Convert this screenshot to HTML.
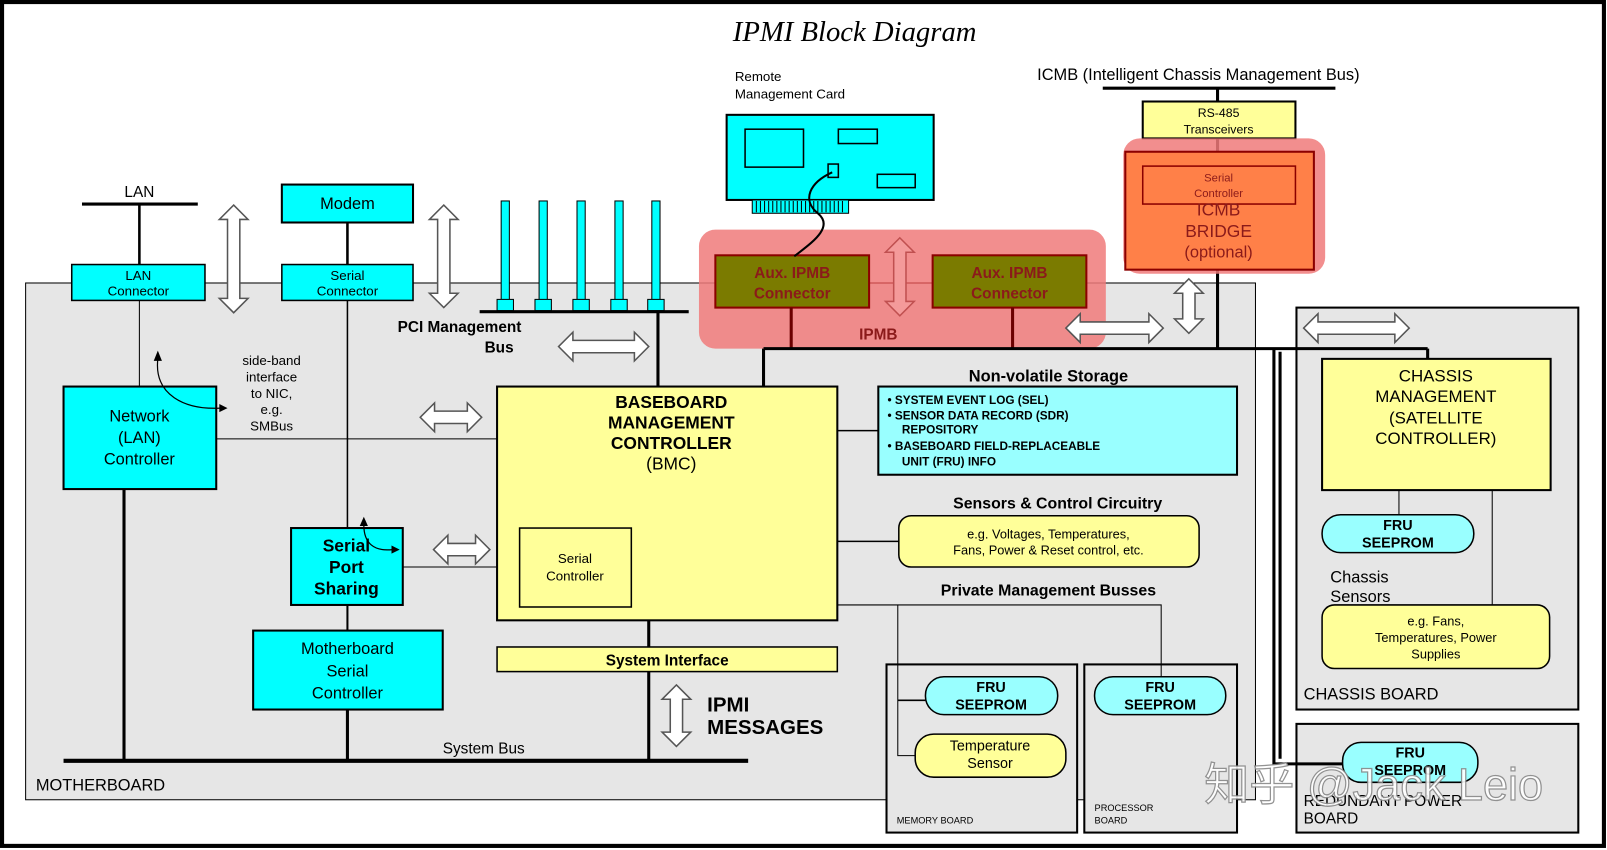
<!DOCTYPE html>
<html><head><meta charset="utf-8"><style>
html,body{margin:0;padding:0;background:#fff;}
svg{display:block;}
text{font-family:"Liberation Sans",Arial,sans-serif;fill:#000;}
.b{font-weight:bold;}
.c{text-anchor:middle;}
.ar{fill:#fff;stroke:#555;stroke-width:1.5;}
</style></head><body>
<svg width="1607" height="850" viewBox="0 0 1568 829" preserveAspectRatio="none" xmlns="http://www.w3.org/2000/svg">
<rect x="0" y="0" width="1568" height="829" fill="#fff"/>
<rect x="2" y="2" width="1563" height="823" fill="none" stroke="#000" stroke-width="4"/>

<!-- title -->
<text x="715" y="40" style="font-family:'Liberation Serif',serif;font-style:italic;font-size:28px">IPMI Block Diagram</text>
<text x="717" y="79" style="font-size:13px">Remote</text>
<text x="717" y="96" style="font-size:13px">Management Card</text>

<!-- boards -->
<rect x="25" y="276" width="1200" height="504" fill="#e6e6e6" stroke="#000" stroke-width="1"/>
<rect x="1265" y="300" width="275" height="392" fill="#e6e6e6" stroke="#000" stroke-width="2"/>
<rect x="1265" y="706" width="275" height="106" fill="#e6e6e6" stroke="#000" stroke-width="2"/>
<rect x="865" y="648" width="186" height="164" fill="#e6e6e6" stroke="#000" stroke-width="2"/>
<rect x="1058" y="648" width="149" height="164" fill="#e6e6e6" stroke="#000" stroke-width="2"/>
<text x="35" y="771" style="font-size:16px">MOTHERBOARD</text>
<text x="1272" y="682" style="font-size:16px">CHASSIS BOARD</text>
<text x="875" y="803" style="font-size:9px">MEMORY BOARD</text>
<text x="1068" y="791" style="font-size:9px">PROCESSOR</text>
<text x="1068" y="803" style="font-size:9px">BOARD</text>
<text x="1272" y="786" style="font-size:15px">REDUNDANT POWER</text>
<text x="1272" y="803" style="font-size:15px">BOARD</text>

<!-- remote card -->
<rect x="709" y="112" width="202" height="83" fill="#00ffff" stroke="#000" stroke-width="2"/>
<rect x="727" y="126" width="57" height="37" fill="none" stroke="#000" stroke-width="1.5"/>
<rect x="818" y="126" width="38" height="14" fill="none" stroke="#000" stroke-width="1.5"/>
<rect x="856" y="170" width="37" height="13" fill="none" stroke="#000" stroke-width="1.5"/>
<rect x="808" y="160" width="10" height="13" fill="none" stroke="#000" stroke-width="1.5"/>
<rect x="734" y="195" width="94" height="13" fill="#00ffff" stroke="#000" stroke-width="1"/>
<path d="M738 196V207M742 196V207M746 196V207M750 196V207M754 196V207M758 196V207M762 196V207M766 196V207M770 196V207M774 196V207M778 196V207M782 196V207M786 196V207M790 196V207M794 196V207M798 196V207M802 196V207M806 196V207M810 196V207M814 196V207M818 196V207M822 196V207" stroke="#000" stroke-width="1"/>

<!-- ICMB -->
<text x="1012" y="78" style="font-size:16px">ICMB (Intelligent Chassis Management Bus)</text>
<line x1="1076" y1="86" x2="1303" y2="86" stroke="#000" stroke-width="3"/>
<line x1="1188" y1="86" x2="1188" y2="340" stroke="#000" stroke-width="3"/>
<rect x="1115" y="99" width="149" height="36" fill="#ffff99" stroke="#000" stroke-width="2"/>
<text x="1189" y="114" class="c" style="font-size:12px">RS-485</text>
<text x="1189" y="130" class="c" style="font-size:12px">Transceivers</text>
<rect x="1096" y="135" width="197" height="132" rx="16" fill="#f07a7a" opacity="0.85"/>
<rect x="1098" y="148" width="184" height="115" fill="#ff8048" stroke="#8b0000" stroke-width="2"/>
<rect x="1115" y="162" width="149" height="37" fill="#ff8048" stroke="#8b0000" stroke-width="1.5"/>
<text x="1189" y="177" class="c" style="font-size:11px;fill:#8b1a1a">Serial</text>
<text x="1189" y="192" class="c" style="font-size:11px;fill:#8b1a1a">Controller</text>
<text x="1189" y="210" class="c" style="font-size:17px;fill:#8b1a1a">ICMB</text>
<text x="1189" y="231" class="c" style="font-size:17px;fill:#8b1a1a">BRIDGE</text>
<text x="1189" y="251" class="c" style="font-size:16px;fill:#8b1a1a">(optional)</text>

<!-- IPMB -->
<rect x="682" y="224" width="397" height="116" rx="16" fill="#f07a7a" opacity="0.85"/>
<line x1="848" y1="276" x2="910" y2="276" stroke="#c04040" stroke-width="1"/>
<rect x="698" y="249" width="150" height="51" fill="#7b7b00" stroke="#8b0000" stroke-width="2"/>
<rect x="910" y="249" width="150" height="51" fill="#7b7b00" stroke="#8b0000" stroke-width="2"/>
<text x="773" y="271" class="c b" style="font-size:15px;fill:#8b1a1a">Aux. IPMB</text>
<text x="773" y="291" class="c b" style="font-size:15px;fill:#8b1a1a">Connector</text>
<text x="985" y="271" class="c b" style="font-size:15px;fill:#8b1a1a">Aux. IPMB</text>
<text x="985" y="291" class="c b" style="font-size:15px;fill:#8b1a1a">Connector</text>
<polygon points="878,232 892,246 884,246 884,294 892,294 878,308 864,294 872,294 872,246 864,246" fill="#f49a9a" stroke="#c05050" stroke-width="1.5"/>
<text x="857" y="331" class="c b" style="font-size:15px;fill:#8b1a1a">IPMB</text>
<line x1="772" y1="300" x2="772" y2="340" stroke="#6b0000" stroke-width="3"/>
<line x1="988" y1="300" x2="988" y2="340" stroke="#6b0000" stroke-width="3"/>
<path d="M812 168 C790 178 782 195 798 208 C815 222 790 238 775 250" fill="none" stroke="#000" stroke-width="2"/>

<!-- IPMB bus -->
<line x1="745" y1="340" x2="1393" y2="340" stroke="#000" stroke-width="3"/>
<line x1="745" y1="340" x2="745" y2="378" stroke="#000" stroke-width="3"/>
<line x1="1393" y1="340" x2="1393" y2="350" stroke="#000" stroke-width="3"/>
<polyline points="1243,340 1243,745 1310,745" fill="none" stroke="#000" stroke-width="3"/>
<line x1="1249" y1="343" x2="1249" y2="740" stroke="#000" stroke-width="3"/>

<polygon class="ar" points="1040,320 1054,306 1054,314 1121,314 1121,306 1135,320 1121,334 1121,326 1054,326 1054,334"/>
<polygon class="ar" points="1160,272 1174,286 1166,286 1166,311 1174,311 1160,325 1146,311 1154,311 1154,286 1146,286"/>
<polygon class="ar" points="1272,320 1286,306 1286,314 1361,314 1361,306 1375,320 1361,334 1361,326 1286,326 1286,334"/>

<!-- LAN / modem -->
<text x="136" y="192" class="c" style="font-size:15px">LAN</text>
<line x1="80" y1="199" x2="193" y2="199" stroke="#000" stroke-width="3"/>
<line x1="136" y1="199" x2="136" y2="258" stroke="#000" stroke-width="2.5"/>
<line x1="136" y1="293" x2="136" y2="377" stroke="#000" stroke-width="1"/>
<rect x="70" y="258" width="130" height="35" fill="#00ffff" stroke="#000" stroke-width="1.5"/>
<text x="135" y="273" class="c" style="font-size:13px">LAN</text>
<text x="135" y="288" class="c" style="font-size:13px">Connector</text>
<rect x="275" y="180" width="128" height="37" fill="#00ffff" stroke="#000" stroke-width="2"/>
<text x="339" y="204" class="c" style="font-size:16px">Modem</text>
<line x1="339" y1="217" x2="339" y2="258" stroke="#000" stroke-width="2.5"/>
<rect x="275" y="258" width="128" height="35" fill="#00ffff" stroke="#000" stroke-width="1.5"/>
<text x="339" y="273" class="c" style="font-size:13px">Serial</text>
<text x="339" y="288" class="c" style="font-size:13px">Connector</text>
<polygon class="ar" points="228,200 242,214 234,214 234,291 242,291 228,305 214,291 222,291 222,214 214,214"/>
<polygon class="ar" points="433,200 447,214 439,214 439,286 447,286 433,300 419,286 427,286 427,214 419,214"/>

<!-- PCI -->
<g fill="#00ffff" stroke="#000" stroke-width="1">
<rect x="489" y="196" width="8" height="104"/><rect x="526" y="196" width="8" height="104"/><rect x="563" y="196" width="8" height="104"/><rect x="600" y="196" width="8" height="104"/><rect x="636" y="196" width="8" height="104"/>
<rect x="485" y="292" width="16" height="11"/><rect x="522" y="292" width="16" height="11"/><rect x="559" y="292" width="16" height="11"/><rect x="596" y="292" width="16" height="11"/><rect x="632" y="292" width="16" height="11"/>
</g>
<line x1="468" y1="304" x2="672" y2="304" stroke="#000" stroke-width="3"/>
<line x1="642" y1="304" x2="642" y2="378" stroke="#000" stroke-width="3"/>
<text x="388" y="324" class="b" style="font-size:15px">PCI Management</text>
<text x="487" y="344" class="c b" style="font-size:15px">Bus</text>
<polygon class="ar" points="545,338 559,324 559,332 619,332 619,324 633,338 619,352 619,344 559,344 559,352"/>

<!-- left column -->
<rect x="62" y="377" width="149" height="100" fill="#00ffff" stroke="#000" stroke-width="2"/>
<text x="136" y="411" class="c" style="font-size:16px">Network</text>
<text x="136" y="432" class="c" style="font-size:16px">(LAN)</text>
<text x="136" y="453" class="c" style="font-size:16px">Controller</text>
<line x1="121" y1="477" x2="121" y2="742" stroke="#000" stroke-width="3"/>
<line x1="339" y1="293" x2="339" y2="515" stroke="#000" stroke-width="1.5"/>
<text x="265" y="356" class="c" style="font-size:13px">side-band</text>
<text x="265" y="372" class="c" style="font-size:13px">interface</text>
<text x="265" y="388" class="c" style="font-size:13px">to NIC,</text>
<text x="265" y="404" class="c" style="font-size:13px">e.g.</text>
<text x="265" y="420" class="c" style="font-size:13px">SMBus</text>
<path d="M154 350 C150 385 180 400 216 398" fill="none" stroke="#000" stroke-width="1.2"/>
<polygon points="154,342 150,352 158,352" fill="#000"/>
<polygon points="222,398 214,394 214,402" fill="#000"/>
<line x1="211" y1="428" x2="485" y2="428" stroke="#000" stroke-width="1"/>
<polygon class="ar" points="410,407 424,393 424,401 456,401 456,393 470,407 456,421 456,413 424,413 424,421"/>

<rect x="284" y="515" width="109" height="75" fill="#00ffff" stroke="#000" stroke-width="2"/>
<text x="338" y="538" class="c b" style="font-size:17px">Serial</text>
<text x="338" y="559" class="c b" style="font-size:17px">Port</text>
<text x="338" y="580" class="c b" style="font-size:17px">Sharing</text>
<path d="M355 512 C355 530 365 538 383 536" fill="none" stroke="#000" stroke-width="1.2"/>
<polygon points="355,504 351,513 359,513" fill="#000"/>
<polygon points="390,536 382,532 382,540" fill="#000"/>
<line x1="393" y1="553" x2="507" y2="553" stroke="#000" stroke-width="1"/>
<polygon class="ar" points="423,536 437,522 437,530 464,530 464,522 478,536 464,550 464,542 437,542 437,550"/>
<line x1="339" y1="590" x2="339" y2="615" stroke="#000" stroke-width="2"/>
<rect x="247" y="615" width="185" height="77" fill="#00ffff" stroke="#000" stroke-width="2"/>
<text x="339" y="638" class="c" style="font-size:16px">Motherboard</text>
<text x="339" y="660" class="c" style="font-size:16px">Serial</text>
<text x="339" y="681" class="c" style="font-size:16px">Controller</text>
<line x1="339" y1="692" x2="339" y2="742" stroke="#000" stroke-width="3"/>
<line x1="62" y1="742" x2="730" y2="742" stroke="#000" stroke-width="4"/>
<text x="432" y="735" style="font-size:15px">System Bus</text>

<!-- BMC -->
<rect x="485" y="377" width="332" height="228" fill="#ffff99" stroke="#000" stroke-width="2"/>
<text x="655" y="398" class="c b" style="font-size:17px">BASEBOARD</text>
<text x="655" y="418" class="c b" style="font-size:17px">MANAGEMENT</text>
<text x="655" y="438" class="c b" style="font-size:17px">CONTROLLER</text>
<text x="655" y="458" class="c" style="font-size:17px">(BMC)</text>
<rect x="507" y="515" width="109" height="77" fill="#ffff99" stroke="#000" stroke-width="1.5"/>
<text x="561" y="549" class="c" style="font-size:13px">Serial</text>
<text x="561" y="566" class="c" style="font-size:13px">Controller</text>
<line x1="633" y1="605" x2="633" y2="631" stroke="#000" stroke-width="3"/>
<rect x="485" y="631" width="332" height="24" fill="#ffff99" stroke="#000" stroke-width="1.5"/>
<text x="651" y="649" class="c b" style="font-size:15px">System Interface</text>
<line x1="633" y1="655" x2="633" y2="742" stroke="#000" stroke-width="3"/>
<polygon class="ar" points="660,668 674,682 666,682 666,714 674,714 660,728 646,714 654,714 654,682 646,682"/>
<text x="690" y="694" class="b" style="font-size:20px">IPMI</text>
<text x="690" y="716" class="b" style="font-size:20px">MESSAGES</text>

<!-- Non volatile -->
<text x="1023" y="372" class="c b" style="font-size:16px">Non-volatile Storage</text>
<rect x="857" y="377" width="350" height="86" fill="#99ffff" stroke="#000" stroke-width="2"/>
<g style="font-size:11.5px;font-weight:bold">
<text x="866" y="394">• SYSTEM EVENT LOG (SEL)</text>
<text x="866" y="409">• SENSOR DATA RECORD (SDR)</text>
<text x="880" y="423">REPOSITORY</text>
<text x="866" y="439">• BASEBOARD FIELD-REPLACEABLE</text>
<text x="880" y="454">UNIT (FRU) INFO</text>
</g>
<line x1="817" y1="420" x2="857" y2="420" stroke="#000" stroke-width="1.5"/>

<text x="1032" y="496" class="c b" style="font-size:15.5px">Sensors &amp; Control Circuitry</text>
<rect x="877" y="503" width="293" height="50" rx="12" fill="#ffff99" stroke="#000" stroke-width="1.5"/>
<text x="1023" y="525" class="c" style="font-size:12.5px">e.g. Voltages, Temperatures,</text>
<text x="1023" y="541" class="c" style="font-size:12.5px">Fans, Power &amp; Reset control, etc.</text>
<line x1="817" y1="528" x2="877" y2="528" stroke="#000" stroke-width="1.5"/>

<text x="1023" y="581" class="c b" style="font-size:15.5px">Private Management Busses</text>
<polyline points="817,590 1133,590 1133,660" fill="none" stroke="#000" stroke-width="1"/>
<polyline points="876,590 876,737 893,737" fill="none" stroke="#000" stroke-width="1"/>
<line x1="876" y1="683" x2="903" y2="683" stroke="#000" stroke-width="1.5"/>
<rect x="903" y="660" width="129" height="37" rx="18" fill="#99ffff" stroke="#000" stroke-width="1.5"/>
<text x="967" y="675" class="c b" style="font-size:14px">FRU</text>
<text x="967" y="692" class="c b" style="font-size:14px">SEEPROM</text>
<rect x="893" y="716" width="147" height="42" rx="18" fill="#ffff99" stroke="#000" stroke-width="1.5"/>
<text x="966" y="732" class="c" style="font-size:14px">Temperature</text>
<text x="966" y="749" class="c" style="font-size:14px">Sensor</text>
<rect x="1068" y="660" width="128" height="37" rx="18" fill="#99ffff" stroke="#000" stroke-width="1.5"/>
<text x="1132" y="675" class="c b" style="font-size:14px">FRU</text>
<text x="1132" y="692" class="c b" style="font-size:14px">SEEPROM</text>

<!-- chassis -->
<rect x="1290" y="350" width="223" height="128" fill="#ffff99" stroke="#000" stroke-width="2"/>
<text x="1401" y="372" class="c" style="font-size:16.5px">CHASSIS</text>
<text x="1401" y="392" class="c" style="font-size:16.5px">MANAGEMENT</text>
<text x="1401" y="413" class="c" style="font-size:16.5px">(SATELLITE</text>
<text x="1401" y="433" class="c" style="font-size:16.5px">CONTROLLER)</text>
<line x1="1365" y1="478" x2="1365" y2="502" stroke="#000" stroke-width="1"/>
<line x1="1456" y1="478" x2="1456" y2="590" stroke="#000" stroke-width="1"/>
<rect x="1290" y="502" width="148" height="37" rx="18" fill="#99ffff" stroke="#000" stroke-width="1.5"/>
<text x="1364" y="517" class="c b" style="font-size:14px">FRU</text>
<text x="1364" y="534" class="c b" style="font-size:14px">SEEPROM</text>
<text x="1298" y="568" style="font-size:16px">Chassis</text>
<text x="1298" y="587" style="font-size:16px">Sensors</text>
<rect x="1290" y="590" width="222" height="62" rx="12" fill="#ffff99" stroke="#000" stroke-width="1.5"/>
<text x="1401" y="610" class="c" style="font-size:12.5px">e.g. Fans,</text>
<text x="1401" y="626" class="c" style="font-size:12.5px">Temperatures, Power</text>
<text x="1401" y="642" class="c" style="font-size:12.5px">Supplies</text>

<rect x="1310" y="724" width="132" height="39" rx="18" fill="#99ffff" stroke="#000" stroke-width="1.5"/>
<text x="1376" y="739" class="c b" style="font-size:14px">FRU</text>
<text x="1376" y="756" class="c b" style="font-size:14px">SEEPROM</text>

<!-- watermark -->
<text x="1175" y="780" style="font-family:'Liberation Sans','Noto Sans CJK SC',sans-serif;font-size:44px;fill:#fff;stroke:#888;stroke-width:1.2;opacity:0.9">知乎 @Jack Leio</text>
</svg>
</body></html>
